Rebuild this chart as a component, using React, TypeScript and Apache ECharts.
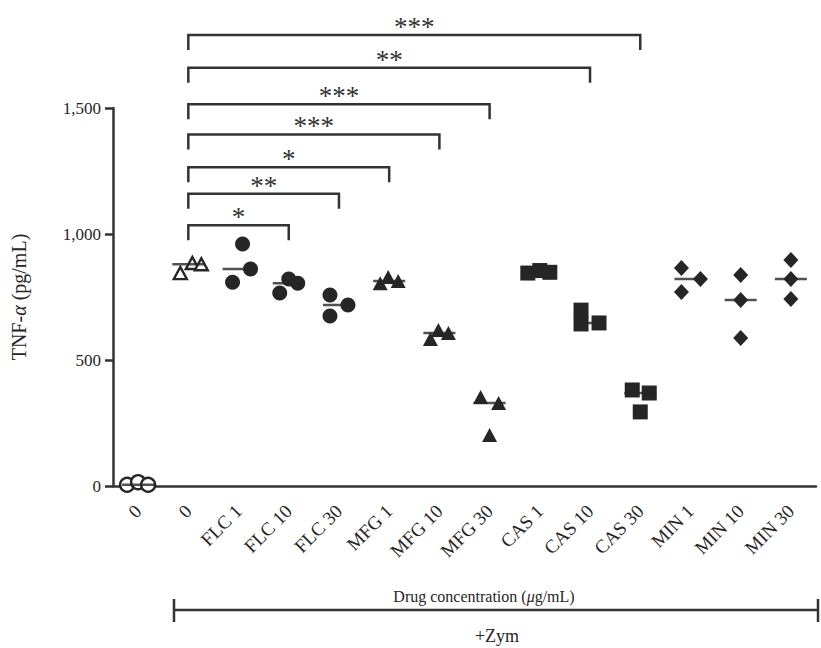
import React, { useEffect, useRef } from "react";
import * as echarts from "echarts";

const categories = ["0", "0", "FLC 1", "FLC 10", "FLC 30", "MFG 1", "MFG 10", "MFG 30", "CAS 1", "CAS 10", "CAS 30", "MIN 1", "MIN 10", "MIN 30"];

const groupValues: number[][] = [
  [5, 15, 5],
  [845, 885, 880],
  [960, 861, 809],
  [821, 805, 766],
  [758, 718, 675],
  [805, 829, 813],
  [583, 619, 607],
  [353, 329, 202],
  [845, 855, 848],
  [698, 643, 647],
  [381, 369, 294],
  [865, 821, 770],
  [837, 738, 587],
  [897, 821, 742],
];

// horizontal jitter of each point (px), a display style only
const jitterPx: number[][] = [
  [-11, 0, 10],
  [-8, 4, 13],
  [4, 12, -6],
  [0, 9, -9],
  [-9, 9, -9],
  [-9, -1, 9],
  [-9, -1, 9],
  [-9, 9, 0],
  [-12, 0, 10],
  [-9, -9, 9],
  [-8, 9, 0],
  [-9, 10, -9],
  [0, 0, 0],
  [0, 0, 0],
];

const groupSymbols = ["circle", "triangle", "circle", "circle", "circle", "triangle", "triangle", "triangle", "rect", "rect", "rect", "diamond", "diamond", "diamond"];
const groupOpen = [true, true, false, false, false, false, false, false, false, false, false, false, false, false];

const yTicks = [0, 500, 1000, 1500];

// significance brackets: from category index, to category index, height (pg/mL), label
const bracketFrom = [1, 1, 1, 1, 1, 1, 1];
const bracketTo = [3, 4, 5, 6, 7, 9, 10];
const bracketHeight = [1035, 1160, 1265, 1395, 1515, 1660, 1790];
const bracketLabel = ["*", "**", "*", "***", "***", "**", "***"];

const FONT = "Liberation Serif";
const INK = "#262626";

function median(a: number[]) {
  const s = [...a].sort((x, y) => x - y);
  return s[Math.floor(s.length / 2)];
}

export default function App() {
  const ref = useRef<HTMLDivElement>(null);
  useEffect(() => {
    if (!ref.current) return;
    const chart = echarts.init(ref.current, null, { renderer: "svg" });

    const pointSeries = groupValues.map((vals, gi) => {
      const sym = groupSymbols[gi];
      const size = sym === "circle" ? 15 : sym === "triangle" ? [15, 14] : sym === "rect" ? 15 : [15, 16];
      return {
        type: "scatter",
        name: categories[gi],
        symbol: sym,
        symbolSize: groupOpen[gi] ? (sym === "circle" ? 14 : [13, 12]) : size,
        itemStyle: groupOpen[gi]
          ? { color: "#ffffff", borderColor: INK, borderWidth: 2.4, opacity: 1 }
          : { color: INK, opacity: 1 },
        z: 3,
        data: vals.map((v, i) => ({ value: [gi, v], symbolOffset: [jitterPx[gi][i], 0] })),
      };
    });

    const medianSeries = {
      type: "scatter",
      name: "median",
      symbol: "rect",
      symbolSize: [32, 2.5],
      itemStyle: { color: INK },
      z: 4,
      data: groupValues.map((vals, gi) => [gi, median(vals)]),
    };

    const bracketSeries = {
      type: "custom",
      name: "significance",
      clip: false,
      z: 5,
      data: bracketFrom.map((f, i) => [f, bracketTo[i], bracketHeight[i]]),
      renderItem: (params: any, api: any) => {
        const p1 = api.coord([api.value(0), api.value(2)]);
        const p2 = api.coord([api.value(1), api.value(2)]);
        const drop = 15;
        return {
          type: "group",
          children: [
            {
              type: "polyline",
              shape: { points: [[p1[0], p1[1] + drop], [p1[0], p1[1]], [p2[0], p1[1]], [p2[0], p1[1] + drop]] },
              style: { stroke: "#333", lineWidth: 2.5, fill: "none" },
            },
            {
              type: "text",
              x: (p1[0] + p2[0]) / 2,
              y: p1[1] - 8,
              style: {
                text: bracketLabel[params.dataIndex],
                fill: "#333",
                fontFamily: FONT,
                fontSize: 27,
                align: "center",
                verticalAlign: "middle",
              },
            },
          ],
        };
      },
    };

    chart.setOption({
      animation: false,
      backgroundColor: "#ffffff",
      grid: { left: 113, right: 5, top: 108, bottom: 162, containLabel: false },
      xAxis: {
        type: "category",
        data: categories,
        boundaryGap: true,
        axisLine: { lineStyle: { color: "#333", width: 2.5 } },
        axisTick: { alignWithLabel: true, length: 8, lineStyle: { color: "#333", width: 2.5 } },
        axisLabel: { rotate: 45, margin: 22, color: INK, fontFamily: FONT, fontSize: 19, interval: 0 },
        splitLine: { show: false },
      },
      yAxis: {
        type: "value",
        min: 0,
        max: 1500,
        interval: 500,
        name: "TNF-{i|α} (pg/mL)",
        nameLocation: "middle",
        nameGap: 84,
        nameRotate: 90,
        nameTextStyle: {
          color: INK,
          fontFamily: FONT,
          fontSize: 20,
          rich: { i: { fontStyle: "italic", fontFamily: FONT, fontSize: 20, color: INK } },
        },
        axisLine: { show: true, lineStyle: { color: "#333", width: 2.5 } },
        axisTick: { show: true, length: 8, lineStyle: { color: "#333", width: 2.5 } },
        axisLabel: {
          margin: 12,
          color: INK,
          fontFamily: FONT,
          fontSize: 17,
          formatter: (v: number) => (yTicks.includes(v) ? v.toLocaleString("en-US") : ""),
        },
        splitLine: { show: false },
      },
      graphic: [
        {
          type: "text",
          x: 484,
          y: 596,
          style: {
            text: "Drug concentration ({i|μ}g/mL)",
            fill: INK,
            fontFamily: FONT,
            fontSize: 16,
            align: "center",
            verticalAlign: "middle",
            rich: { i: { fontStyle: "italic", fontFamily: FONT, fontSize: 16, fill: INK } },
          },
        },
        {
          type: "line",
          shape: { x1: 174, y1: 610, x2: 818, y2: 610 },
          style: { stroke: "#333", lineWidth: 2.5 },
        },
        {
          type: "line",
          shape: { x1: 174, y1: 599, x2: 174, y2: 622 },
          style: { stroke: "#333", lineWidth: 2.5 },
        },
        {
          type: "line",
          shape: { x1: 818, y1: 599, x2: 818, y2: 622 },
          style: { stroke: "#333", lineWidth: 2.5 },
        },
        {
          type: "text",
          x: 497,
          y: 636,
          style: {
            text: "+Zym",
            fill: INK,
            fontFamily: FONT,
            fontSize: 18,
            align: "center",
            verticalAlign: "middle",
          },
        },
      ],
      series: [...pointSeries, medianSeries, bracketSeries],
    });
    return () => chart.dispose();
  }, []);

  return <div ref={ref} style={{ width: 821, height: 648, position: "absolute", left: 0, top: 0 }} />;
}
